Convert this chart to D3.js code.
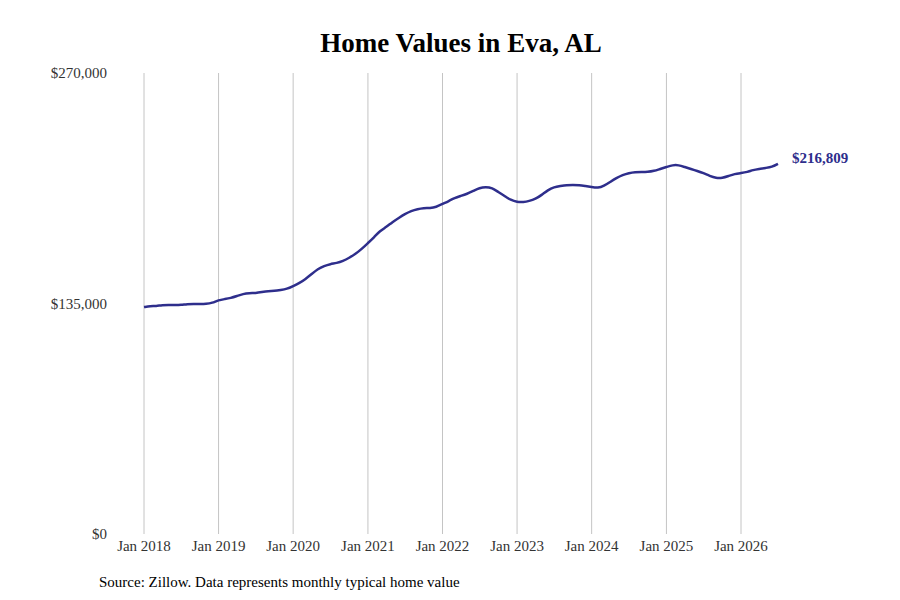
<!DOCTYPE html>
<html><head><meta charset="utf-8">
<script src="https://cdn.jsdelivr.net/npm/d3@7"></script>
<style>body{margin:0;background:#fff}text{font-family:"Liberation Serif","DejaVu Serif",serif}</style>
</head><body><svg id="c" width="900" height="600"></svg>
<script>
// monthly typical home value (thousands), Jan 2018 .. Jul 2026
const values = [
  132.9,133.5,133.5,134.1,134.1,134.1,134.1,134.7,134.7,134.7,134.7,135.3,
  137.0,137.6,138.2,139.4,140.6,141.1,141.1,141.7,142.3,142.3,142.9,143.5,
  145.2,147.0,149.3,152.3,155.2,157.0,158.1,158.7,159.9,161.7,164.0,166.9,
  170.4,173.9,177.5,179.8,182.7,185.1,187.4,189.2,190.3,190.9,190.9,191.5,
  193.3,195.0,196.8,198.0,199.2,200.9,202.7,203.2,202.7,200.3,198.0,195.6,
  194.4,194.4,195.0,196.2,198.5,201.5,203.2,203.8,204.4,204.4,204.4,203.8,
  203.2,202.6,203.8,206.2,208.5,210.3,211.4,212.0,212.0,212.0,212.6,213.8,
  214.9,216.1,216.1,214.9,213.8,212.6,211.4,209.7,208.5,208.5,209.7,210.9,
  211.4,212.0,213.2,213.8,214.4,214.9,216.809
];
const yTicks = [0, 135000, 270000];
const xYears = [2018,2019,2020,2021,2022,2023,2024,2025,2026];
const endLabel = "$216,809";

const data = values.map((v,i)=>({d:new Date(2018,i,1), v:v*1000}));
const svg = d3.select("#c");
const x = d3.scaleTime().domain([new Date(2018,0,1), new Date(2026,0,1)]).range([144,741]);
const y = d3.scaleLinear().domain([0,270000]).range([534,73]);

svg.append("text").attr("x",461).attr("y",52).attr("text-anchor","middle")
  .attr("font-size",27).attr("font-weight","bold").text("Home Values in Eva, AL");

svg.selectAll(".g").data(xYears).join("line")
  .attr("x1",d=>x(new Date(d,0,1))).attr("x2",d=>x(new Date(d,0,1)))
  .attr("y1",73).attr("y2",534).attr("stroke","#c4c4c4").attr("stroke-width",1);

svg.selectAll(".xl").data(xYears).join("text")
  .attr("x",d=>x(new Date(d,0,1))).attr("y",551).attr("text-anchor","middle")
  .attr("font-size",15).attr("fill","#333").text(d=>"Jan "+d);

svg.selectAll(".yl").data(yTicks).join("text")
  .attr("x",107).attr("y",d=>y(d)+5).attr("text-anchor","end")
  .attr("font-size",15).attr("fill","#333").text(d=>"$"+d3.format(",")(d));

svg.append("path").datum(data)
  .attr("d",d3.line().x(d=>x(d.d)).y(d=>y(d.v)).curve(d3.curveBasis))
  .attr("fill","none").attr("stroke","#2e2e8c").attr("stroke-width",2.5);

const last = data[data.length-1];
svg.append("text").attr("x",x(last.d)+14).attr("y",y(last.v)-1)
  .attr("font-size",15).attr("font-weight","bold").attr("fill","#2e2e8c").text(endLabel);

svg.append("text").attr("x",99).attr("y",587).attr("font-size",15).attr("fill","#000")
  .text("Source: Zillow. Data represents monthly typical home value");
</script></body></html>
